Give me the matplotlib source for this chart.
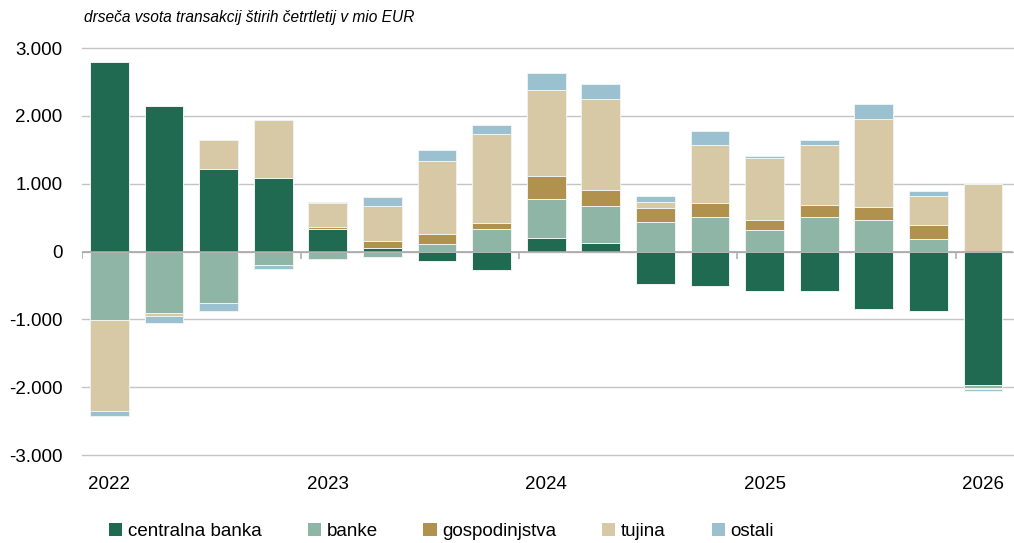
import numpy as np
import matplotlib
matplotlib.use("Agg")
import matplotlib.pyplot as plt
from matplotlib.patches import Patch
from matplotlib.ticker import FuncFormatter

plt.rcParams["font.family"] = ["Liberation Sans", "DejaVu Sans"]

# ── data (mio EUR, rolling 4-quarter sum) ──
quarters = ["2022Q1", "2022Q2", "2022Q3", "2022Q4",
            "2023Q1", "2023Q2", "2023Q3", "2023Q4",
            "2024Q1", "2024Q2", "2024Q3", "2024Q4",
            "2025Q1", "2025Q2", "2025Q3", "2025Q4",
            "2026Q1"]
year_labels = ["2022", "2023", "2024", "2025", "2026"]

centralna_banka = [2800, 2145, 1215, 1080, 330, 50, -145, -270, 205, 120,
                   -485, -505, -580, -580, -845, -870, -1975]
banke = [-1005, -910, -755, -195, -115, -75, 115, 325, 575, 555,
         440, 510, 310, 510, 470, 190, -40]
gospodinjstva = [0, 0, 0, 0, 25, 110, 145, 100, 335, 230,
                 195, 210, 160, 180, 190, 195, -5]
tujina = [-1340, -35, 430, 865, 360, 505, 1075, 1300, 1260, 1340,
          100, 855, 915, 875, 1300, 440, 990]
ostali = [-75, -115, -115, -70, 10, 140, 165, 135, 260, 225,
          85, 200, 25, 80, 210, 70, -30]

series = [
    ("centralna banka", centralna_banka, "#1f6a51"),
    ("banke", banke, "#8fb5a6"),
    ("gospodinjstva", gospodinjstva, "#b0924e"),
    ("tujina", tujina, "#d8c9a6"),
    ("ostali", ostali, "#9bc0d0"),
]

# ── figure ──
fig = plt.figure(figsize=(10.14, 5.43), dpi=100)
ax = fig.add_axes([0.081, 0.162, 0.918, 0.7496])

x = np.arange(len(quarters))
pos_base = np.zeros(len(quarters))
neg_base = np.zeros(len(quarters))
for name, vals, col in series:
    v = np.array(vals, dtype=float)
    pos = np.where(v > 0, v, 0)
    neg = np.where(v < 0, v, 0)
    ax.bar(x, pos, 0.71, bottom=pos_base, color=col,
           edgecolor="#eef3f1", linewidth=0.7, zorder=3)
    ax.bar(x, neg, 0.71, bottom=neg_base, color=col,
           edgecolor="#eef3f1", linewidth=0.7, zorder=3)
    pos_base += pos
    neg_base += neg

ax.set_ylim(-3000, 3000)
ax.set_xlim(-0.5, 16.55)
ax.set_yticks(np.arange(-3000, 3001, 1000))
ax.yaxis.set_major_formatter(FuncFormatter(lambda v, p: f"{int(v):,}".replace(",", ".")))
ax.grid(axis="y", color="#c4c4c4", linewidth=1.0, zorder=0)
for gl in ax.get_ygridlines():
    gl.set_clip_on(False)
ax.axhline(0, color="#a8a8a8", linewidth=1.2, zorder=4)

# year boundary ticks on the zero line
bounds = np.arange(-0.5, len(quarters), 4)
ax.vlines(bounds, -110, 0, color="#b0b0b0", linewidth=1.2, zorder=4)

ax.set_xticks(x[::4])
ax.set_xticklabels(year_labels)
ax.tick_params(axis="both", length=0, labelsize=13.5, colors="black")
ax.tick_params(axis="x", pad=15)
ax.tick_params(axis="y", pad=14)
for s in ax.spines.values():
    s.set_visible(False)

fig.text(0.083, 0.967, "drseča vsota transakcij štirih četrtletij v mio EUR",
         fontsize=11.2, style="italic", ha="left", va="center")

handles = [Patch(facecolor=c, edgecolor="none", label=n) for n, _, c in series]
fig.legend(handles=handles, loc="lower left", bbox_to_anchor=(0.091, -0.025),
           ncol=5, frameon=False, fontsize=13.5, handlelength=0.7,
           handleheight=0.7, handletextpad=0.3, columnspacing=2.45)

fig.savefig("out.png", dpi=100)
